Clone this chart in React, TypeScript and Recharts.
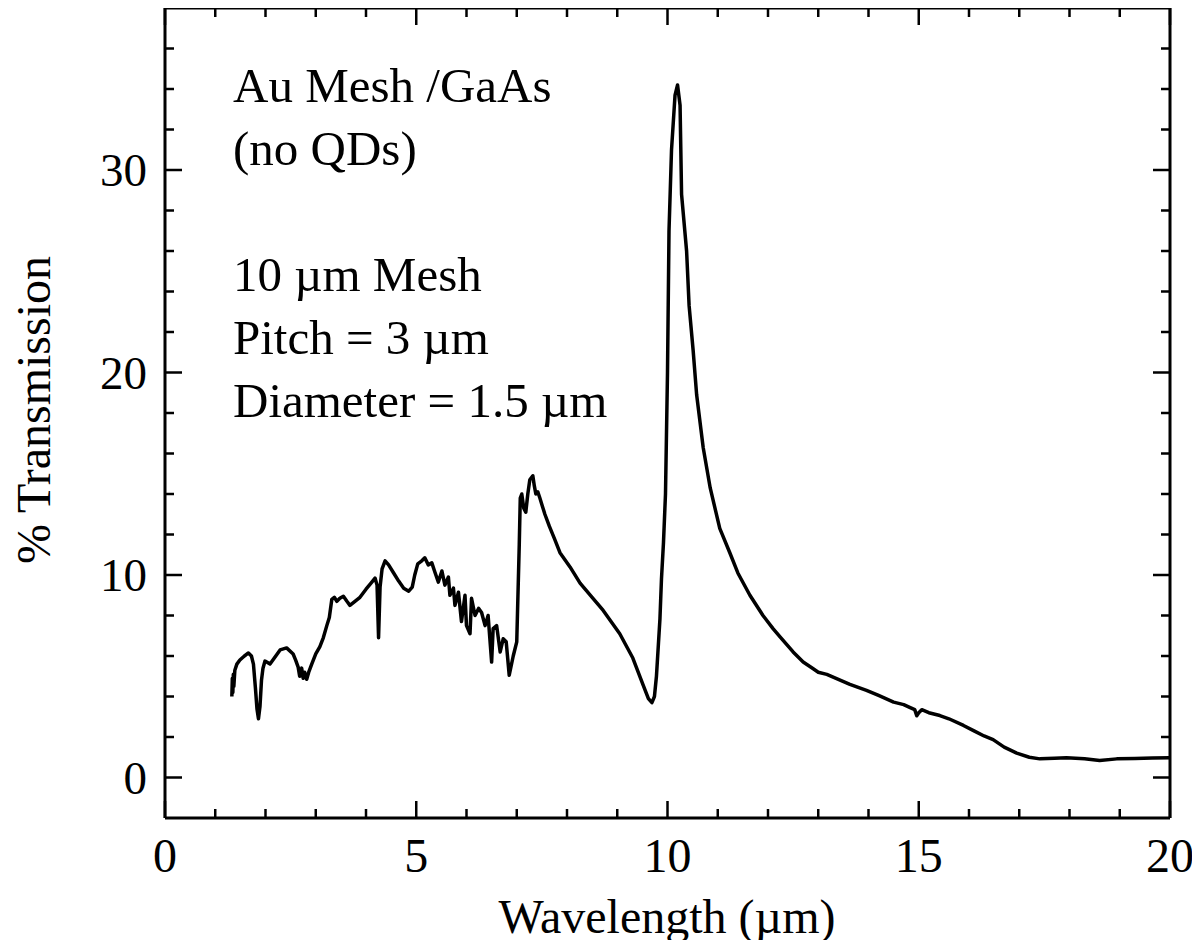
import React from "react";
import { LineChart, Line, XAxis, YAxis } from "recharts";

// wavelength (um) / % transmission
const nirWavelength = [
  1.33, 1.34, 1.35, 1.36, 1.37, 1.39, 1.43, 1.49, 1.58, 1.66, 1.72, 1.76, 1.8,
  1.83, 1.86, 1.89, 1.92, 1.95, 1.99, 2.09, 2.19, 2.29, 2.42, 2.55, 2.6, 2.65,
  2.68, 2.72, 2.75, 2.78, 2.82, 2.86, 2.92, 3.0, 3.08, 3.15, 3.22, 3.27, 3.32,
  3.37, 3.42, 3.48, 3.55, 3.62, 3.68, 3.78, 3.88, 4.0, 4.1, 4.18, 4.22, 4.25,
  4.28, 4.32, 4.38, 4.45, 4.55, 4.65, 4.75, 4.85, 4.92, 4.97, 5.03, 5.11, 5.17,
  5.24, 5.31, 5.37, 5.44, 5.51, 5.57, 5.64, 5.67, 5.74, 5.77, 5.84, 5.9, 5.97,
  6.0, 6.07, 6.1, 6.17, 6.24, 6.3, 6.37, 6.43, 6.5, 6.53, 6.6, 6.67, 6.73,
  6.79, 6.85, 6.93, 7.0,
];
const nirTransmission = [
  4.0, 4.9, 4.2, 5.1, 4.5, 5.3, 5.6, 5.8, 6.0, 6.15, 6.0, 5.6, 4.4, 3.4, 2.9,
  3.5, 4.8, 5.4, 5.75, 5.6, 5.95, 6.3, 6.4, 6.1, 5.8, 5.45, 5.0, 5.4, 4.9, 5.2,
  4.85, 5.2, 5.6, 6.1, 6.45, 6.9, 7.5, 7.9, 8.8, 8.9, 8.7, 8.85, 8.95, 8.7, 8.5,
  8.7, 8.9, 9.3, 9.6, 9.85, 9.5, 6.9, 9.4, 10.3, 10.7, 10.5, 10.1, 9.7, 9.35,
  9.2, 9.4, 10.0, 10.55, 10.7, 10.85, 10.5, 10.6, 10.15, 9.65, 10.2, 9.5, 9.9,
  9.0, 9.35, 8.5, 9.15, 7.7, 9.0, 7.5, 7.1, 8.85, 8.0, 8.35, 8.15, 7.5, 8.0,
  5.7, 7.35, 7.5, 6.2, 6.85, 6.7, 5.05, 6.0, 6.7,
];

const midWavelength = [
  7.05, 7.07, 7.1, 7.14, 7.18, 7.22, 7.26, 7.32, 7.35, 7.38, 7.42, 7.46, 7.51,
  7.56, 7.65, 7.75, 7.86, 8.06, 8.26, 8.5, 8.72, 9.05, 9.31, 9.51, 9.62, 9.69,
  9.74, 9.78, 9.85, 9.88, 9.92,
];
const midTransmission = [
  11.5, 13.8, 14.0, 13.3, 13.1, 14.0, 14.7, 14.9, 14.4, 14.0, 14.1, 13.8, 13.4,
  13.0, 12.4, 11.8, 11.1, 10.4, 9.6, 8.9, 8.25, 7.1, 5.9, 4.6, 3.9, 3.7, 4.0,
  5.0, 7.85, 9.8, 11.6,
];

const peakWavelength = [
  9.96, 10.0, 10.03, 10.08, 10.15, 10.2, 10.25, 10.28, 10.38, 10.43, 10.51,
  10.58, 10.71, 10.85, 11.04, 11.24, 11.4, 11.64, 11.9, 12.1, 12.24, 12.5,
  12.7, 12.9, 13.0, 13.17, 13.4, 13.63, 13.96, 14.2, 14.5, 14.7, 14.83, 14.92,
  14.96, 15.0, 15.06, 15.2, 15.42, 15.6, 15.89, 16.1, 16.3, 16.48, 16.7, 16.95,
  17.2, 17.41, 17.7, 17.94, 18.3, 18.6, 18.94, 19.3, 19.65, 20.0,
];
const peakTransmission = [
  14.0, 20.0, 27.0, 31.0, 33.7, 34.2, 33.2, 28.8, 26.0, 23.3, 21.1, 18.9, 16.3,
  14.3, 12.3, 11.1, 10.1, 9.0, 8.0, 7.35, 6.94, 6.2, 5.7, 5.37, 5.2, 5.09,
  4.85, 4.6, 4.3, 4.05, 3.72, 3.6, 3.45, 3.35, 3.05, 3.2, 3.35, 3.2, 3.06, 2.9,
  2.57, 2.3, 2.05, 1.87, 1.5, 1.2, 1.0, 0.92, 0.95, 0.97, 0.93, 0.84, 0.92,
  0.94, 0.96, 0.97,
];

const xTicks = [0, 1, 2, 3, 4, 5, 6, 7, 8, 9, 10, 11, 12, 13, 14, 15, 16, 17, 18, 19, 20];
const yTicks = [0, 2, 4, 6, 8, 10, 12, 14, 16, 18, 20, 22, 24, 26, 28, 30, 32, 34, 36];

const notes = ["Au Mesh /GaAs", "(no QDs)", "", "10 \u00b5m Mesh", "Pitch = 3 \u00b5m", "Diameter = 1.5 \u00b5m"];

const wavelength = [...nirWavelength, ...midWavelength, ...peakWavelength];
const transmission = [...nirTransmission, ...midTransmission, ...peakTransmission];
const data = wavelength.map((w, i) => ({ w, t: transmission[i] }));

const FONT = '"Liberation Serif", "Times New Roman", serif';
const MAJOR = 17;
const MINOR = 9;
// tickSize + tickMargin: distance from the axis line to the (x, y) handed to a tick
const GAP = 8;

const BottomTick = (props: any) => {
  const { x, y, payload } = props;
  const major = payload.value % 5 === 0;
  const y0 = y - GAP;
  return (
    <g>
      <line x1={x} x2={x} y1={y0} y2={y0 - (major ? MAJOR : MINOR)} stroke="#000" strokeWidth={2.5} />
      {major && (
        <text x={x} y={y0 + 54} textAnchor="middle" fontFamily={FONT} fontSize={48} fill="#000">
          {payload.value}
        </text>
      )}
    </g>
  );
};

const TopTick = (props: any) => {
  const { x, y, payload } = props;
  const major = payload.value % 5 === 0;
  const y0 = y + GAP;
  return <line x1={x} x2={x} y1={y0} y2={y0 + (major ? MAJOR : MINOR)} stroke="#000" strokeWidth={2.5} />;
};

const LeftTick = (props: any) => {
  const { x, y, payload } = props;
  const major = payload.value % 10 === 0;
  const x0 = x + GAP;
  return (
    <g>
      <line x1={x0} x2={x0 + (major ? MAJOR : MINOR)} y1={y} y2={y} stroke="#000" strokeWidth={2.5} />
      {major && (
        <text x={x0 - 18} y={y + 16} textAnchor="end" fontFamily={FONT} fontSize={47} fill="#000">
          {payload.value}
        </text>
      )}
    </g>
  );
};

const RightTick = (props: any) => {
  const { x, y, payload } = props;
  const major = payload.value % 10 === 0;
  const x0 = x - GAP;
  return <line x1={x0} x2={x0 - (major ? MAJOR : MINOR)} y1={y} y2={y} stroke="#000" strokeWidth={2.5} />;
};

const axisLine = { stroke: "#000", strokeWidth: 3 };

export default function App() {
  return (
    <div style={{ margin: "-8px", width: 1200, height: 948 }}>
      <LineChart width={1200} height={948} data={data} margin={{ top: 7, right: 29, bottom: 0, left: 0 }}>
        <XAxis
          xAxisId="bottom"
          dataKey="w"
          type="number"
          domain={[0, 20]}
          ticks={xTicks}
          interval={0}
          height={130}
          tickSize={6}
          tickMargin={2}
          tickLine={false}
          axisLine={axisLine}
          tick={<BottomTick />}
          allowDataOverflow
        />
        <XAxis
          xAxisId="top"
          dataKey="w"
          orientation="top"
          type="number"
          domain={[0, 20]}
          ticks={xTicks}
          interval={0}
          height={1}
          tickSize={6}
          tickMargin={2}
          tickLine={false}
          axisLine={axisLine}
          tick={<TopTick />}
          allowDataOverflow
        />
        <YAxis
          yAxisId="left"
          type="number"
          domain={[-2, 38]}
          ticks={yTicks}
          interval={0}
          width={165}
          tickSize={6}
          tickMargin={2}
          tickLine={false}
          axisLine={axisLine}
          tick={<LeftTick />}
          allowDataOverflow
        />
        <YAxis
          yAxisId="right"
          orientation="right"
          type="number"
          domain={[-2, 38]}
          ticks={yTicks}
          interval={0}
          width={1}
          tickSize={6}
          tickMargin={2}
          tickLine={false}
          axisLine={axisLine}
          tick={<RightTick />}
          allowDataOverflow
        />
        <Line
          xAxisId="bottom"
          yAxisId="left"
          dataKey="t"
          type="linear"
          stroke="#000"
          strokeWidth={3.5}
          strokeLinejoin="round"
          dot={false}
          isAnimationActive={false}
        />
        {/* keeps the top/right frame axes attached to a series */}
        <Line
          xAxisId="top"
          yAxisId="right"
          dataKey="t"
          stroke="none"
          dot={false}
          activeDot={false}
          legendType="none"
          isAnimationActive={false}
        />
        <text x={667} y={933} textAnchor="middle" fontFamily={FONT} fontSize={48} fill="#000">
          {"Wavelength (\u00b5m)"}
        </text>
        <text
          x={50}
          y={410}
          transform="rotate(-90 50 410)"
          textAnchor="middle"
          fontFamily={FONT}
          fontSize={48}
          fill="#000"
        >
          % Transmission
        </text>
        <g fontFamily={FONT} fontSize={49} fill="#000">
          {notes.map((line, i) => (
            <text key={i} x={233} y={102 + i * 63}>
              {line}
            </text>
          ))}
        </g>
      </LineChart>
    </div>
  );
}
